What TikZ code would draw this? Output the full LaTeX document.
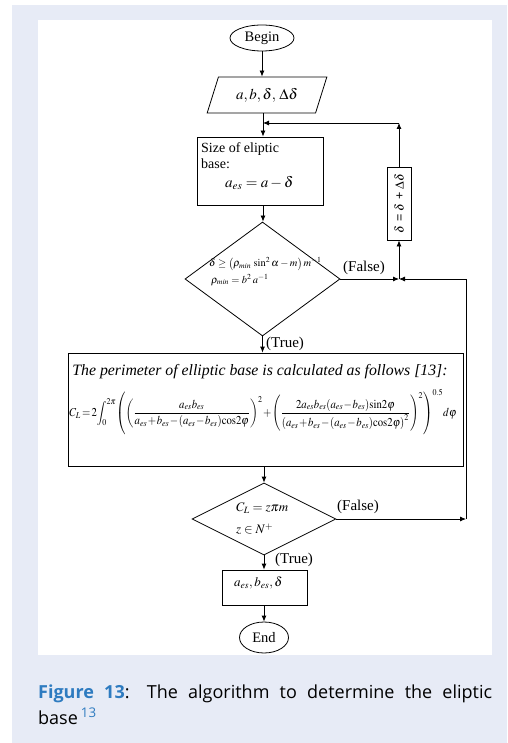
\documentclass[tikz,border=0pt]{standalone}
\usepackage{mathptmx}
\usepackage{fontspec}
\setmainfont{Liberation Serif}
\newfontfamily\capfont{Open Sans}
\newfontfamily\arialfont{Liberation Sans}
\usetikzlibrary{arrows.meta,shapes.geometric,calc}
\definecolor{pagebg}{HTML}{E7EBF6}
\definecolor{capblue}{HTML}{2E7BC0}
\tikzset{
  line/.style={draw=black, line width=0.8pt},
  arr/.style={line, -{Latex[length=6pt,width=5pt]}},
  boxnode/.style={draw=black, line width=0.8pt, inner sep=0pt},
  lbl/.style={font=\fontsize{15}{15}\selectfont, inner sep=0pt},
}
\begin{document}
\begin{tikzpicture}[x=1pt,y=-1pt]
\useasboundingbox (0,0) rectangle (507,743);
\fill[pagebg] (12,5) rectangle (507,743);
\fill[white] (38,20) rectangle (492,655);

% nodes
\node[boxnode, ellipse, minimum width=64, minimum height=26, font=\fontsize{14.5}{14.5}\selectfont] (begin) at (262,38) {Begin};
\node[boxnode, trapezium, trapezium left angle=63, trapezium right angle=117, trapezium stretches=true, minimum width=120, minimum height=36, font=\fontsize{15}{15}\selectfont] (input) at (267,95) {$a,b,\delta,\,\Delta\delta$};
\node[boxnode, minimum width=126, minimum height=68] (size) at (260,171) {};
\node[anchor=north west, inner sep=0pt, align=left, font=\fontsize{14}{16}\selectfont] (sizetxt) at (201,142) {Size of eliptic\\base:\\[3pt]\hspace*{24pt}{\fontsize{15}{15}\selectfont$a_{es}=a-\delta$}};
\node[boxnode, diamond, minimum width=155, minimum height=114] (d1) at (262.5,279) {};
\node[anchor=north west, inner sep=0pt, font=\fontsize{10.5}{10.5}\selectfont] (d1txta) at (209,257) {$\delta\geq\left(\rho_{min}\,\sin^2\alpha-m\right)m^{-1}$};
\node[anchor=north west, inner sep=0pt, font=\fontsize{10.5}{10.5}\selectfont] (d1txtb) at (211,274) {$\rho_{min}=b^2\,a^{-1}$};
\node[boxnode, minimum width=24, minimum height=73] (upd) at (399,203.5) {\rotatebox{90}{\arialfont\fontsize{12.5}{12.5}\selectfont $\delta$ = $\delta$ + $\Delta\delta$}};
\node[boxnode, minimum width=395, minimum height=113] (calc) at (265.5,409.5) {};
\node[inner sep=0pt, font=\fontsize{15.8}{15.8}\selectfont\itshape] (calctxt) at (260,372) {The perimeter of elliptic base is calculated as follows [13]:};
\node[inner sep=0pt] (formula) at (263,412) {\resizebox*{387pt}{46pt}{\medmuskip=1mu\thickmuskip=2mu\thinmuskip=0mu$\displaystyle C_L=2\int_0^{2\pi}\!\left(\left(\frac{a_{es}b_{es}}{a_{es}+b_{es}-(a_{es}-b_{es})\cos 2\varphi}\right)^{2}\!+\left(\frac{2a_{es}b_{es}(a_{es}-b_{es})\sin 2\varphi}{\left(a_{es}+b_{es}-(a_{es}-b_{es})\cos 2\varphi\right)^{2}}\right)^{2}\right)^{0.5}\!d\varphi$}};
\node[boxnode, diamond, minimum width=144, minimum height=72] (d2) at (264,519) {};
\node[anchor=west, inner sep=0pt, align=left, font=\fontsize{13}{22}\selectfont] (d2txt) at (236,519) {$C_L=z\pi m$\\$z\in N^{+}$};
\node[boxnode, minimum width=85, minimum height=35] (out) at (264.5,587.5) {};
\node[anchor=west, inner sep=0pt, font=\fontsize{13}{13}\selectfont] (outtxt) at (234,583) {$a_{es},b_{es},\delta$};
\node[boxnode, ellipse, minimum width=49, minimum height=31, font=\fontsize{14.5}{14.5}\selectfont] (end) at (264,637.5) {End};

% junctions
\coordinate (j1) at (399,279);
\coordinate (c1) at (399,123);
\coordinate (m1) at (263,123);
\coordinate (c2) at (466,519);
\coordinate (c3) at (466,279);

% connectors
\draw[arr] (begin.south) -- (begin.south |- input.north);
\draw[arr] (input.south -| m1) -- (m1 |- size.north);
\draw[arr] (size.south -| m1) -- (m1 |- d1.north);
\draw[arr] (d1.east) -- (j1);
\draw[arr] (c3) -- (j1);
\draw[arr] (j1) -- (upd.south);
\draw[arr] (upd.north) -- (c1);
\draw[arr] (c1) -- (m1);
\draw[arr] (d1.south) -- (d1.south |- calc.north);
\draw[arr] (calc.south -| d2.north) -- (d2.north);
\draw[arr] (d2.east) -- (c2);
\draw[line] (c2) -- (c3);
\draw[arr] (d2.south) -- (d2.south |- out.north);
\draw[arr] (out.south -| end.north) -- (end.north);

% labels
\node[lbl, anchor=west] (f1) at (343,268) {(False)};
\node[lbl, anchor=west] (t1) at (266,344) {(True)};
\node[lbl, anchor=west] (f2) at (337,507) {(False)};
\node[lbl, anchor=west] (t2) at (275,560) {(True)};

% caption
\node[anchor=base west, inner sep=0pt, font=\capfont\fontsize{18}{18}\selectfont] (cap1) at (38,698) {\makebox[454pt][s]{\textcolor{capblue}{\bfseries Figure 13}: The algorithm to determine the eliptic}};
\node[anchor=base west, inner sep=0pt, font=\capfont\fontsize{18}{18}\selectfont] (cap2) at (38,724) {base\,\textsuperscript{\textcolor{capblue}{13}}};
\end{tikzpicture}
\end{document}
